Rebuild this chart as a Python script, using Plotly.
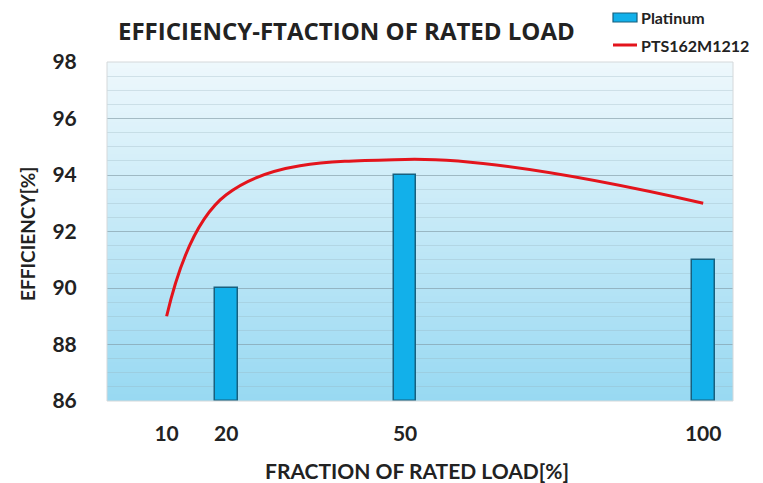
import base64
import struct
import zlib
import plotly.graph_objects as go

# ---- data ----
load_cats = [20, 50, 100]
platinum = [90, 94, 91]
pts_load = [10, 20, 50, 100]
pts_eff = [89, 93.3, 94.55, 93.0]
x_ticks = [10, 20, 50, 100]
y_ticks = [86, 88, 90, 92, 94, 96, 98]
series_names = ["Platinum", "PTS162M1212"]

FONT = "Lato"
TXT = "#222222"
BAR_FILL = "#12b0ea"
BAR_EDGE = "#17607f"
LINE_COL = "#e3141c"

# page coordinates (the page body has an 8px margin)
OFF = 8
W, H = 763 - OFF, 483 - OFF
PL, PR, PT, PB = 107, 733, 62, 401
L, R, T, B = PL - OFF, 763 - PR, PT - OFF, 483 - PB
PW, PH = PR - PL, PB - PT


def xp(X):
    return (X - PL) / PW


def yp(Y):
    return (PB - Y) / PH


def gradient_png(top, bot, h=256):
    rows = b""
    for i in range(h):
        t = i / (h - 1)
        c = bytes(round(top[k] + (bot[k] - top[k]) * t) for k in range(3))
        rows += b"\x00" + c

    def chunk(tag, data):
        return (struct.pack(">I", len(data)) + tag + data
                + struct.pack(">I", zlib.crc32(tag + data) & 0xffffffff))
    png = b"\x89PNG\r\n\x1a\n"
    png += chunk(b"IHDR", struct.pack(">IIBBBBB", 1, h, 8, 2, 0, 0, 0))
    png += chunk(b"IDAT", zlib.compress(rows))
    png += chunk(b"IEND", b"")
    return "data:image/png;base64," + base64.b64encode(png).decode()


fig = go.Figure()
fig.add_trace(go.Bar(
    x=load_cats, y=[v - 86 for v in platinum], base=86, width=3.8,
    name=series_names[0],
    marker=dict(color=BAR_FILL, line=dict(color=BAR_EDGE, width=1.5)),
))
fig.add_trace(go.Scatter(
    x=pts_load, y=pts_eff, mode="lines", name=series_names[1],
    line=dict(color=LINE_COL, width=3, shape="spline", smoothing=1.1),
))

shapes = [
    dict(type="rect", xref="paper", yref="paper", layer="above",
         x0=0, x1=1, y0=0, y1=1, line=dict(color="#d4d8da", width=1)),
    # custom legend keys
    dict(type="rect", xref="paper", yref="paper",
         x0=xp(613), x1=xp(637), y0=yp(22), y1=yp(13),
         fillcolor=BAR_FILL, line=dict(color=BAR_EDGE, width=1.2)),
    dict(type="line", xref="paper", yref="paper",
         x0=xp(613), x1=xp(637), y0=yp(45), y1=yp(45),
         line=dict(color=LINE_COL, width=3)),
]

annotations = [
    dict(text="<b>EFFICIENCY-FTACTION OF RATED LOAD</b>", xref="paper", yref="paper",
         x=xp(346), y=yp(31), xanchor="center", yanchor="middle",
         showarrow=False, font=dict(family="Open Sans", size=24, color=TXT)),
    dict(text="<b>EFFICIENCY[%]</b>", xref="paper", yref="paper",
         x=xp(27), y=yp(234), textangle=-90,
         xanchor="center", yanchor="middle", showarrow=False,
         font=dict(family=FONT, size=19, color=TXT)),
    dict(text="<b>FRACTION OF RATED LOAD[%]</b>", xref="paper", yref="paper",
         x=xp(417), y=yp(470),
         xanchor="center", yanchor="middle", showarrow=False,
         font=dict(family=FONT, size=21, color=TXT)),
    dict(text="<b>%s</b>" % series_names[0], xref="paper", yref="paper",
         x=xp(639), y=yp(18), xanchor="left", yanchor="middle", showarrow=False,
         font=dict(family=FONT, size=16, color=TXT)),
    dict(text="<b>%s</b>" % series_names[1], xref="paper", yref="paper",
         x=xp(639), y=yp(45), xanchor="left", yanchor="middle", showarrow=False,
         font=dict(family=FONT, size=16, color=TXT)),
]

fig.update_layout(
    width=W, height=H,
    margin=dict(l=L, r=R, t=T, b=B, autoexpand=False),
    paper_bgcolor="white", plot_bgcolor="rgba(0,0,0,0)",
    images=[dict(source=gradient_png((238, 248, 252), (152, 217, 242)),
                 xref="paper", yref="paper", x=0, y=1, sizex=1, sizey=1,
                 sizing="stretch", layer="below", xanchor="left", yanchor="top")],
    shapes=shapes,
    annotations=annotations,
    showlegend=False,
    bargap=0,
    xaxis=dict(range=[0, 105], tickmode="array", tickvals=x_ticks,
               ticktext=[str(v) for v in x_ticks], showgrid=False, zeroline=False,
               ticks="outside", ticklen=14, tickcolor="rgba(0,0,0,0)",
               tickfont=dict(family=FONT, size=21, color=TXT, weight="bold")),
    yaxis=dict(range=[86, 98], tickmode="array", tickvals=y_ticks,
               ticktext=[str(v) for v in y_ticks], zeroline=False,
               showgrid=True, gridcolor="rgba(120,145,155,0.45)", gridwidth=1,
               minor=dict(tickmode="linear", tick0=86, dtick=0.5, showgrid=True,
                          gridcolor="rgba(150,175,185,0.3)", gridwidth=1),
               ticks="outside", ticklen=25, tickcolor="rgba(0,0,0,0)",
               tickfont=dict(family=FONT, size=21, color=TXT, weight="bold")),
)

fig.write_html("out.html")
